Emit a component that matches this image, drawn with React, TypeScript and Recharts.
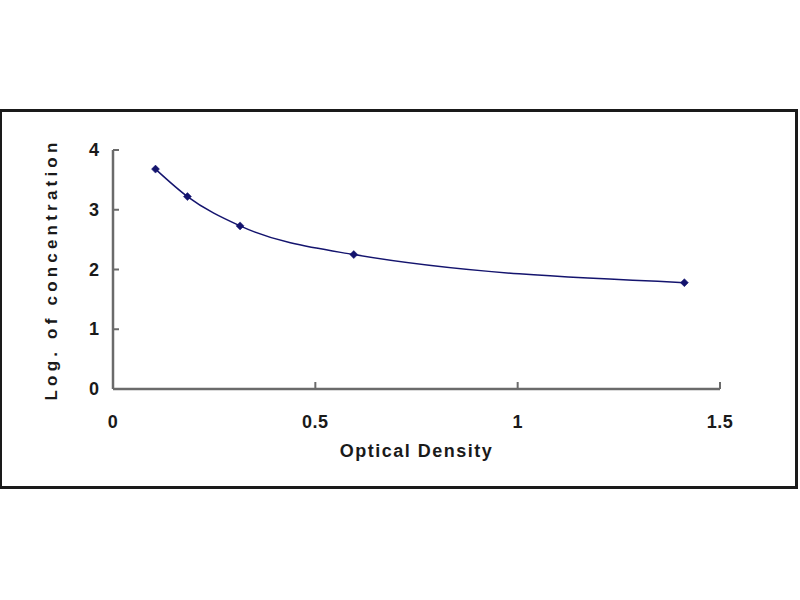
import { LineChart, Line, XAxis, YAxis, Label } from "recharts";

// Standard curve readings
const opticalDensity = [0.105, 0.184, 0.314, 0.595, 1.412];
const logConcentration = [3.68, 3.22, 2.73, 2.25, 1.78];

const xTicks = [0, 0.5, 1, 1.5];
const yTicks = [0, 1, 2, 3, 4];

const data = opticalDensity.map((od, i) => ({ od, conc: logConcentration[i] }));

const INK = "#1a1a1a";
const AXIS = "#6b6b6b";
const NAVY = "#14146e";
const FONT = "Arial, 'Liberation Sans', sans-serif";

// Diamond marker like the spreadsheet default
function Diamond(props: { cx?: number; cy?: number; index?: number }) {
  const { cx = 0, cy = 0 } = props;
  const r = 4;
  return (
    <path
      key={`d-${props.index}`}
      d={`M${cx},${cy - r} L${cx + r},${cy} L${cx},${cy + r} L${cx - r},${cy} Z`}
      fill={NAVY}
      stroke={NAVY}
      strokeWidth={0.5}
    />
  );
}

// y tick: label to the left, short tick mark pointing into the plot
function YTick(props: { x?: number; y?: number; payload?: { value: number } }) {
  const { x = 0, y = 0, payload } = props;
  const gap = 14;
  return (
    <g>
      <line x1={x + gap} x2={x + gap + 6} y1={y} y2={y} stroke={AXIS} strokeWidth={2} />
      <text
        x={x}
        y={y}
        dy={6}
        textAnchor="end"
        fill={INK}
        fontSize={18}
        fontWeight="bold"
        fontFamily={FONT}
      >
        {payload?.value}
      </text>
    </g>
  );
}

// x tick: label below, short tick mark pointing up into the plot
function XTick(props: { x?: number; y?: number; payload?: { value: number } }) {
  const { x = 0, y = 0, payload } = props;
  const gap = 26;
  return (
    <g>
      {payload?.value !== 0 && (
        <line x1={x} x2={x} y1={y - gap} y2={y - gap - 7} stroke={AXIS} strokeWidth={2} />
      )}
      <text
        x={x}
        y={y}
        dy={13}
        textAnchor="middle"
        fill={INK}
        fontSize={18}
        fontWeight="bold"
        fontFamily={FONT}
        letterSpacing={0.5}
      >
        {payload?.value}
      </text>
    </g>
  );
}

export default function App() {
  return (
    <div
      style={{
        position: "absolute",
        left: 0,
        top: 0,
        width: 800,
        height: 600,
        background: "#ffffff",
        overflow: "hidden",
      }}
    >
      {/* frame around the chart */}
      <div
        style={{
          position: "absolute",
          left: -1,
          top: 109,
          width: 799,
          height: 380,
          border: `3px solid ${INK}`,
          boxSizing: "border-box",
        }}
      />
      <div style={{ position: "absolute", left: 0, top: 0 }}>
        <LineChart
          width={800}
          height={600}
          data={data}
          margin={{ top: 150, right: 80, bottom: 181, left: 73 }}
        >
          <XAxis
            type="number"
            dataKey="od"
            domain={[0, 1.5]}
            ticks={xTicks}
            height={30}
            tickSize={0}
            tickMargin={26}
            tick={XTick as never}
            axisLine={{ stroke: AXIS, strokeWidth: 2.5 }}
            tickLine={false}
            interval={0}
          >
            <Label
              value="Optical Density"
              position="bottom"
              offset={25}
              fill={INK}
              fontSize={18}
              fontWeight="bold"
              fontFamily={FONT}
              letterSpacing={1.5}
            />
          </XAxis>
          <YAxis
            type="number"
            domain={[0, 4]}
            ticks={yTicks}
            width={40}
            tickSize={0}
            tickMargin={14}
            tick={YTick as never}
            axisLine={{ stroke: AXIS, strokeWidth: 2.5 }}
            tickLine={false}
            interval={0}
          >
            <Label
              value="Log. of concentration"
              angle={-90}
              position="left"
              offset={22}
              fill={INK}
              fontSize={17}
              fontWeight="bold"
              fontFamily={FONT}
              letterSpacing={4.2}
              style={{ textAnchor: "middle" }}
            />
          </YAxis>
          <Line
            type="monotone"
            dataKey="conc"
            stroke={NAVY}
            strokeWidth={1.5}
            dot={<Diamond />}
            activeDot={false}
            isAnimationActive={false}
          />
        </LineChart>
      </div>
    </div>
  );
}
